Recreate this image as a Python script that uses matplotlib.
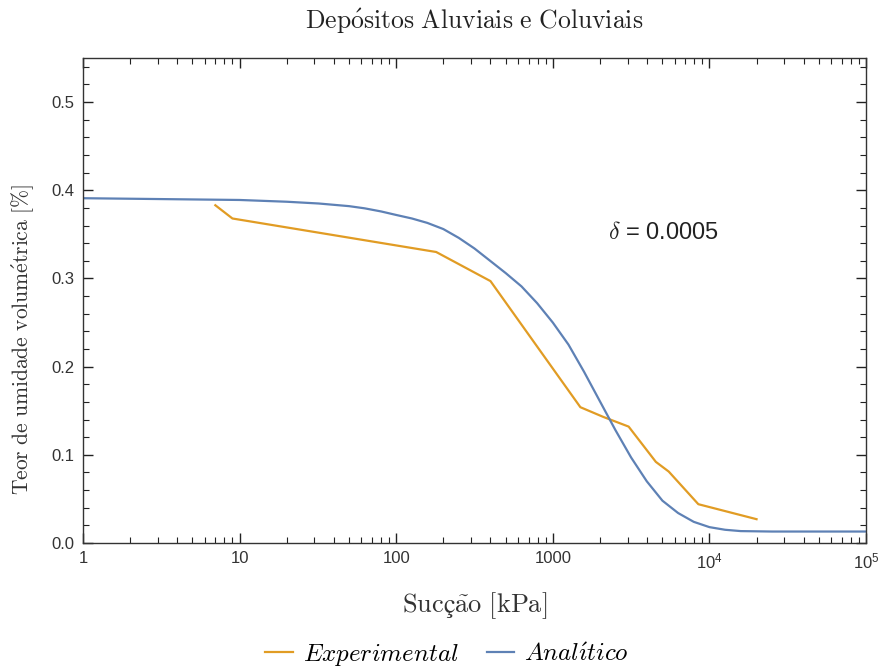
import matplotlib
matplotlib.use("Agg")
import matplotlib.pyplot as plt
import matplotlib.ticker as mticker
import numpy as np

plt.rcParams['mathtext.fontset'] = 'cm'
plt.rcParams['font.family'] = ['Liberation Sans', 'DejaVu Sans']

succao_exp = [7, 9, 180, 400, 1500, 2100, 3050, 4550, 5500, 8500, 20000]
teor_exp = [0.383, 0.368, 0.330, 0.297, 0.154, 0.143, 0.132, 0.092, 0.081, 0.044, 0.027]

# curva analítica
succao_an = [1, 3.2, 10, 20, 32, 50, 63, 80, 100, 126, 158, 200, 251, 316, 398, 501,
             631, 794, 1000, 1259, 1585, 1995, 2512, 3162, 3981, 5012, 6310, 7943,
             10000, 12589, 15849, 25119, 100000]
teor_an = [0.391, 0.390, 0.389, 0.387, 0.385, 0.382, 0.3795, 0.376, 0.372, 0.368,
           0.363, 0.356, 0.346, 0.334, 0.320, 0.306, 0.291, 0.272, 0.250, 0.225,
           0.194, 0.161, 0.128, 0.097, 0.070, 0.048, 0.034, 0.024, 0.018, 0.015,
           0.0135, 0.013, 0.013]

cor_exp = '#E19C24'
cor_an = '#5E81B5'

fig = plt.figure(figsize=(8.82, 6.71), dpi=100)
ax = fig.add_axes([83/882, 1 - 543/671, (866 - 83)/882, (543 - 58)/671])

l1, = ax.plot(succao_exp, teor_exp, color=cor_exp, lw=1.6)
l2, = ax.plot(succao_an, teor_an, color=cor_an, lw=1.6)

ax.set_xscale('log')
ax.set_xlim(1, 1e5)
ax.set_ylim(0, 0.55)

ax.xaxis.set_minor_locator(mticker.LogLocator(base=10, subs=np.arange(2, 10), numticks=20))
ax.xaxis.set_minor_formatter(mticker.NullFormatter())
ax.set_xticks([1, 10, 100, 1000, 1e4, 1e5])
ax.set_xticklabels(['1', '10', '100', '1000', r'$\mathregular{10^4}$', r'$\mathregular{10^5}$'])
ax.yaxis.set_major_locator(mticker.MultipleLocator(0.1))
ax.yaxis.set_minor_locator(mticker.MultipleLocator(0.02))
ax.yaxis.set_major_formatter(mticker.FormatStrFormatter('%.1f'))

ax.tick_params(which='both', direction='in', top=True, right=True, colors='#222222',
               labelcolor='#333333')
ax.tick_params(which='major', length=7, width=1.0, labelsize=12, pad=6)
ax.tick_params(which='minor', length=4, width=0.8)
for s in ax.spines.values():
    s.set_color('#333333')
    s.set_linewidth(1.0)

fig.text(474/882, 1 - 21/671, r'$\mathrm{Dep\acute{o}sitos\ Aluviais\ e\ Coluviais}$',
         ha='center', va='center', fontsize=18.5, color='#222222')
ax.set_xlabel(r'$\mathrm{Sucç\tilde{a}o\ [kPa]}$', fontsize=19, color='#333333',
              labelpad=14)
ax.set_ylabel(r'$\mathrm{Teor\ de\ umidade\ volum\acute{e}trica\ [\%]}$', fontsize=15.5,
              color='#333333')
ax.yaxis.set_label_coords(-0.060, 0.42)

ax.text(5100, 0.352, r'$\delta$ = 0.0005', ha='center', va='center', fontsize=17,
        color='#222222')

fig.legend([l1, l2], [r'$Experimental$', r'$Anal\acute{\imath}tico$'],
           loc='center', bbox_to_anchor=(447/882, 1 - 655/671), ncol=2, frameon=False,
           fontsize=18, handlelength=1.1, handletextpad=0.4, columnspacing=1.1)

fig.savefig('out.png', dpi=100)
